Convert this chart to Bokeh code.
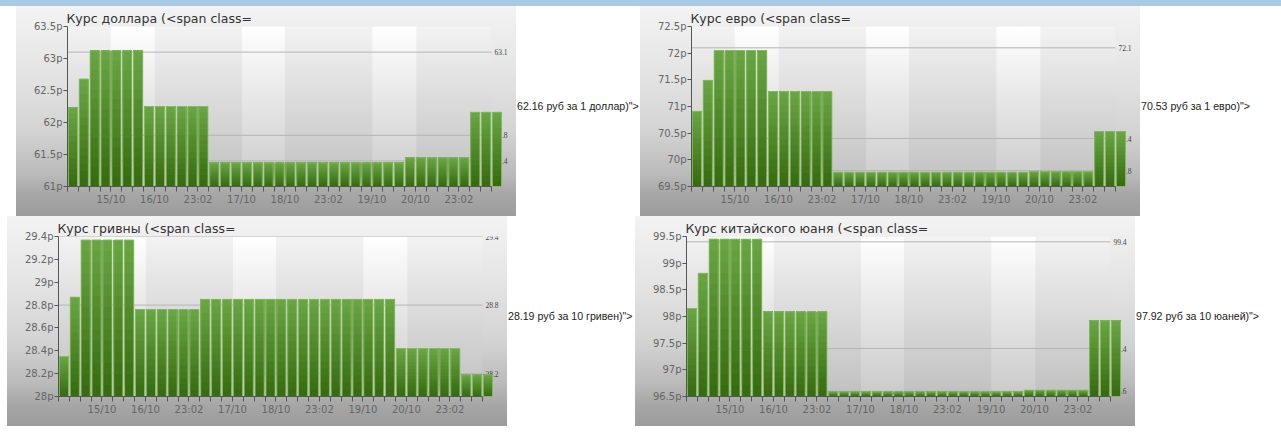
import numpy as np
from bokeh.plotting import figure
from bokeh.layouts import row, column
from bokeh.models import (Range1d, FixedTicker, PrintfTickFormatter, LabelSet, Label,
                          ColumnDataSource, Spacer)
from bokeh.embed import file_html
from bokeh.resources import INLINE

# ---------------- data ----------------
x_tick_labels = ["15/10", "16/10", "23:02", "17/10", "18/10", "23:02", "19/10", "20/10", "23:02"]

usd_title = "Курс доллара (<span class="
usd_note = '62.16 руб за 1 доллар)">'
usd_values = [62.23, 62.68, 63.12, 63.12, 63.12, 63.12, 63.12,
              62.25, 62.25, 62.25, 62.25, 62.25, 62.25,
              61.37, 61.37, 61.37, 61.37, 61.37, 61.37, 61.37, 61.37, 61.37,
              61.37, 61.37, 61.37, 61.37, 61.37, 61.37, 61.37, 61.37, 61.37,
              61.45, 61.45, 61.45, 61.45, 61.45, 61.45,
              62.16, 62.16, 62.16]
usd_left_ticks = [61, 61.5, 62, 62.5, 63, 63.5]
usd_right_ticks = [63.1, 61.8, 61.4]

eur_title = "Курс евро (<span class="
eur_note = '70.53 руб за 1 евро)">'
eur_values = [70.91, 71.49, 72.05, 72.05, 72.05, 72.05, 72.05,
              71.28, 71.28, 71.28, 71.28, 71.28, 71.28,
              69.77, 69.77, 69.77, 69.77, 69.77, 69.77, 69.77, 69.77, 69.77,
              69.77, 69.77, 69.77, 69.77, 69.77, 69.77, 69.77, 69.77, 69.77,
              69.78, 69.78, 69.78, 69.78, 69.78, 69.78,
              70.53, 70.53, 70.53]
eur_left_ticks = [69.5, 70, 70.5, 71, 71.5, 72, 72.5]
eur_right_ticks = [72.1, 70.4, 69.8]

uah_title = "Курс гривны (<span class="
uah_note = '28.19 руб за 10 гривен)">'
uah_values = [28.35, 28.87, 29.37, 29.37, 29.37, 29.37, 29.37,
              28.76, 28.76, 28.76, 28.76, 28.76, 28.76,
              28.85, 28.85, 28.85, 28.85, 28.85, 28.85, 28.85, 28.85, 28.85,
              28.85, 28.85, 28.85, 28.85, 28.85, 28.85, 28.85, 28.85, 28.85,
              28.42, 28.42, 28.42, 28.42, 28.42, 28.42,
              28.19, 28.19, 28.19]
uah_left_ticks = [28, 28.2, 28.4, 28.6, 28.8, 29, 29.2, 29.4]
uah_right_ticks = [29.4, 28.8, 28.2]

cny_title = "Курс китайского юаня (<span class="
cny_note = '97.92 руб за 10 юаней)">'
cny_values = [98.15, 98.81, 99.45, 99.45, 99.45, 99.45, 99.45,
              98.09, 98.09, 98.09, 98.09, 98.09, 98.09,
              96.59, 96.59, 96.59, 96.59, 96.59, 96.59, 96.59, 96.59, 96.59,
              96.59, 96.59, 96.59, 96.59, 96.59, 96.59, 96.59, 96.59, 96.59,
              96.62, 96.62, 96.62, 96.62, 96.62, 96.62,
              97.92, 97.92, 97.92]
cny_left_ticks = [96.5, 97, 97.5, 98, 98.5, 99, 99.5]
cny_right_ticks = [99.4, 97.4, 96.6]

# ---------------- style ----------------
WHITE_BANDS = [(4, 8), (16, 20), (28, 32)]
N_AXIS = 39          # axis / grid extent in bar slots
X_END = 41.3         # frame extent (room for right-hand labels)
PANEL_BG = ("linear-gradient(to bottom, #f3f3f3 0%, #e5e5e5 30%, #d3d3d3 60%, "
            "#bababa 80%, #a6a6a6 90%, #9c9c9c 100%)")
DARK = np.array([0x35, 0x6a, 0x0e])
LIGHT = np.array([0x6b, 0xa6, 0x45])
FONT = "DejaVu Sans"


def hexcol(c):
    return "#%02x%02x%02x" % tuple(int(round(v)) for v in c)


def frame_background():
    W, H = N_AXIS * 10, 80
    img = np.empty((H, W), dtype=np.uint32)
    view = img.view(dtype=np.uint8).reshape((H, W, 4))
    xs = (np.arange(W) + 0.5) / 10.0
    white = np.zeros(W, dtype=bool)
    for a, b in WHITE_BANDS:
        white |= (xs >= a) & (xs < b)
    t = np.arange(H) / (H - 1.0)  # 0 bottom, 1 top
    for r in range(H):
        wv = 203 + 52 * t[r]
        gv = 193 + 50 * t[r]
        v = np.where(white, wv, gv).astype(np.uint8)
        view[r, :, 0] = v
        view[r, :, 1] = v
        view[r, :, 2] = v
        view[r, :, 3] = 255
    return img


def chart(title, values, left_ticks, right_ticks):
    ymin, ymax = left_ticks[0], left_ticks[-1]
    n = len(values)
    p = figure(width=500, height=210, x_range=Range1d(0, X_END), y_range=Range1d(ymin, ymax),
               toolbar_location=None, output_backend="svg",
               min_border_left=51, min_border_right=0, min_border_top=20, min_border_bottom=30)
    p.styles = {"background": PANEL_BG}
    p.border_fill_color = None
    p.background_fill_color = None
    p.outline_line_color = None
    p.xgrid.visible = False
    p.ygrid.visible = False

    p.title.text = title
    p.title.text_font = FONT
    p.title.text_font_size = "12.5px"
    p.title.text_font_style = "normal"
    p.title.text_color = "#333333"
    p.title.align = "left"
    p.title.standoff = 2
    p.title.offset = -1

    # frame background (bands + gradient)
    p.image_rgba(image=[frame_background()], x=0, y=ymin, dw=N_AXIS, dh=ymax - ymin,
                 level="image")

    # right-side grid lines and their labels
    p.segment(x0=[0] * len(right_ticks), x1=[N_AXIS] * len(right_ticks),
              y0=right_ticks, y1=right_ticks, line_color="#b5b5b5", line_width=1)
    rsrc = ColumnDataSource(dict(x=[N_AXIS] * len(right_ticks), y=right_ticks,
                                 text=["%g" % v for v in right_ticks]))
    p.add_layout(LabelSet(x="x", y="y", text="text", source=rsrc, x_offset=3,
                          text_baseline="middle", text_font="Liberation Sans",
                          text_font_size="7.5px", text_color="#444444", level="underlay"))

    # bars with vertical gradient
    xs = [i + 0.5 for i in range(n)]
    vals = np.array(values, dtype=float)
    N = 14
    for k in range(N):
        frac = k / N
        col = hexcol(DARK + (LIGHT - DARK) * ((k + 0.5) / N))
        bottoms = ymin + (vals - ymin) * frac
        p.vbar(x=xs, width=0.84, bottom=bottoms, top=vals, fill_color=col, line_color=None)
    p.vbar(x=xs, width=0.84, bottom=ymin, top=vals, fill_color=None,
           line_color="#8cc06a", line_width=1, line_alpha=0.85)

    # x axis
    xa = p.xaxis[0]
    xa.bounds = (0, N_AXIS)
    xa.ticker = FixedTicker(ticks=list(range(N_AXIS + 1)), minor_ticks=[])
    overrides = {i: "" for i in range(N_AXIS + 1)}
    for k, lab in enumerate(x_tick_labels):
        overrides[4 * (k + 1)] = lab
    xa.major_label_overrides = overrides
    xa.major_tick_in = 0
    xa.major_tick_out = 5
    xa.minor_tick_out = 0
    xa.major_label_standoff = 2
    xa.axis_line_color = "#555555"
    xa.major_tick_line_color = "#555555"
    xa.major_label_text_font = FONT
    xa.major_label_text_font_size = "10px"
    xa.major_label_text_color = "#666666"

    ya = p.yaxis[0]
    ya.ticker = FixedTicker(ticks=left_ticks, minor_ticks=[])
    ya.formatter = PrintfTickFormatter(format="%gр")
    ya.major_tick_in = 0
    ya.major_tick_out = 4
    ya.minor_tick_out = 0
    ya.major_label_standoff = 1
    ya.axis_line_color = "#555555"
    ya.major_tick_line_color = "#555555"
    ya.major_label_text_font = FONT
    ya.major_label_text_font_size = "10px"
    ya.major_label_text_color = "#666666"
    return p


def note(width, text):
    h = 210
    p = figure(width=width, height=h, x_range=Range1d(0, width), y_range=Range1d(0, h),
               toolbar_location=None, output_backend="svg", min_border=0,
               x_axis_type=None, y_axis_type=None)
    p.outline_line_color = None
    p.background_fill_color = "white"
    p.border_fill_color = "white"
    p.grid.visible = False
    p.add_layout(Label(x=0.5, y=h - 104, text=text, text_baseline="middle",
                       text_font="Liberation Sans", text_font_size="10.6px", text_color="#222222"))
    return p


usd = chart(usd_title, usd_values, usd_left_ticks, usd_right_ticks)
eur = chart(eur_title, eur_values, eur_left_ticks, eur_right_ticks)
uah = chart(uah_title, uah_values, uah_left_ticks, uah_right_ticks)
cny = chart(cny_title, cny_values, cny_left_ticks, cny_right_ticks)

top_band = Spacer(width=1281, height=6, styles={"background-color": "#a9c9e5"})
row1 = row(Spacer(width=16, height=210), usd, note(124, usd_note), eur, note(141, eur_note))
row2 = row(Spacer(width=7, height=210), uah, note(128, uah_note), cny, note(146, cny_note))
layout = column(top_band, row1, row2)

open("out.html", "w").write(file_html(layout, INLINE))
